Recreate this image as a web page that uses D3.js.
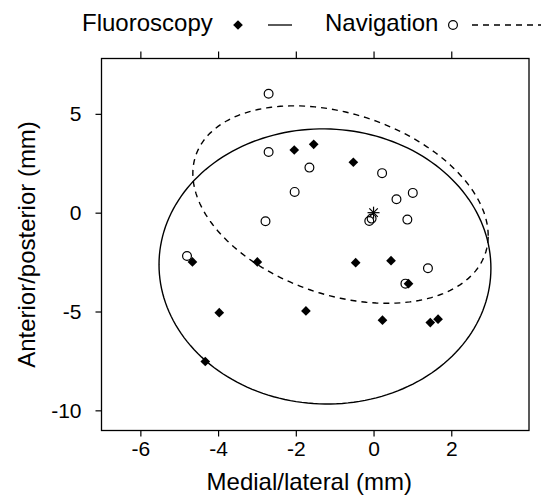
<!DOCTYPE html>
<html>
<head>
<meta charset="utf-8">
<script src="https://cdn.jsdelivr.net/npm/d3@7"></script>
<style>
  body { margin: 0; background: #fff; }
  text { font-family: "Liberation Sans", Arial, sans-serif; fill: #000; }
</style>
</head>
<body>
<div id="chart"></div>
<script>
// values
const fluoroX = [-2.04, -1.54, -0.52, -4.66, -2.99, -3.97, -1.74, -4.33, -0.46, 0.45, 0.90, 0.23, 1.46, 1.66];
const fluoroY = [3.17, 3.46, 2.55, -2.49, -2.49, -5.06, -4.97, -7.53, -2.53, -2.43, -3.59, -5.44, -5.56, -5.39];
const navX = [-2.70, -2.70, -1.65, -2.03, -2.78, -4.80, 0.22, 1.01, 0.59, 0.87, -0.11, -0.05, 1.40, 0.82];
const navY = [6.02, 3.07, 2.28, 1.05, -0.43, -2.19, 2.00, 1.00, 0.68, -0.35, -0.42, -0.30, -2.81, -3.59];
const target = [0, 0];

// ellipses: [centre x, centre y, half width x, half height y, covariance term]
const fluoroEllipse = [-1.25, -2.72, 4.27, 6.96, -0.39];
const navEllipse = [-0.85, 0.41, 3.80, 4.995, -5.98];

const xTicks = [-6, -4, -2, 0, 2];
const yTicks = [-10, -5, 0, 5];
const legendLabels = ['Fluoroscopy', 'Navigation'];

const W = 541, H = 500;
const margin = {top: 58.5, right: 12, bottom: 69.5, left: 101.5};

const svg = d3.select('#chart').append('svg')
    .attr('width', W)
    .attr('height', H);

const x = d3.scaleLinear().domain([-7, 4]).range([margin.left, W - margin.right]);
const y = d3.scaleLinear().domain([-11.02, 7.8]).range([H - margin.bottom, margin.top]);

// axes, lattice style: ticks on bottom/left with labels, top without
svg.append('g')
    .attr('transform', `translate(0,${H - margin.bottom})`)
    .call(d3.axisBottom(x).tickValues(xTicks).tickSize(6).tickPadding(5).tickFormat(d => d))
    .call(g => g.select('.domain').remove())
    .call(g => g.selectAll('text').style('font-size', '21px'));

svg.append('g')
    .attr('transform', `translate(0,${margin.top})`)
    .call(d3.axisTop(x).tickValues(xTicks).tickSize(7).tickFormat(''))
    .call(g => g.select('.domain').remove());

svg.append('g')
    .attr('transform', `translate(${margin.left},0)`)
    .call(d3.axisLeft(y).tickValues(yTicks).tickSize(6).tickPadding(14).tickFormat(d => d))
    .call(g => g.select('.domain').remove())
    .call(g => g.selectAll('text').style('font-size', '21px'));

svg.selectAll('.tick line').attr('stroke', '#000').attr('stroke-width', 1.2);

// frame
svg.append('rect')
    .attr('x', margin.left)
    .attr('y', margin.top)
    .attr('width', W - margin.left - margin.right)
    .attr('height', H - margin.top - margin.bottom)
    .attr('fill', 'none')
    .attr('stroke', '#000')
    .attr('stroke-width', 1.3);

// axis titles
svg.append('text')
    .attr('x', (x(-7) + x(4)) / 2 - 6)
    .attr('y', 490)
    .attr('text-anchor', 'middle')
    .style('font-size', '24px')
    .text('Medial/lateral (mm)');

svg.append('text')
    .attr('transform', `translate(35,${(y(-11.02) + y(7.8)) / 2}) rotate(-90)`)
    .attr('text-anchor', 'middle')
    .style('font-size', '24px')
    .text('Anterior/posterior (mm)');

// ellipses
function ellipsePts(e) {
  const [cx, cy, sx, sy, c] = e;
  const k = c / sx, m = Math.sqrt(sy * sy - k * k);
  return d3.range(0, 361, 2).map(a => {
    const t = a * Math.PI / 180;
    return [cx + sx * Math.cos(t), cy + k * Math.cos(t) + m * Math.sin(t)];
  });
}
const line = d3.line().x(d => x(d[0])).y(d => y(d[1])).curve(d3.curveLinearClosed);

const plot = svg.append('g');

plot.append('path')
    .attr('d', line(ellipsePts(fluoroEllipse)))
    .attr('fill', 'none')
    .attr('stroke', '#000')
    .attr('stroke-width', 1.4);

plot.append('path')
    .attr('d', line(ellipsePts(navEllipse)))
    .attr('fill', 'none')
    .attr('stroke', '#000')
    .attr('stroke-width', 1.4)
    .attr('stroke-dasharray', '6,5');

// points
const diamond = d3.symbol().type(d3.symbolDiamond2).size(60);
plot.selectAll('.fluoro')
    .data(fluoroX.map((v, i) => [v, fluoroY[i]]))
  .enter().append('path')
    .attr('class', 'fluoro')
    .attr('transform', d => `translate(${x(d[0])},${y(d[1])})`)
    .attr('d', diamond)
    .attr('fill', '#000');

plot.selectAll('.nav')
    .data(navX.map((v, i) => [v, navY[i]]))
  .enter().append('circle')
    .attr('class', 'nav')
    .attr('cx', d => x(d[0]))
    .attr('cy', d => y(d[1]))
    .attr('r', 4.4)
    .attr('fill', 'none')
    .attr('stroke', '#000')
    .attr('stroke-width', 1.2);

// asterisk at the target
const star = plot.append('g')
    .attr('transform', `translate(${x(target[0])},${y(target[1])})`)
    .attr('stroke', '#000')
    .attr('stroke-width', 1.2);
[0, 45, 90, 135].forEach(a => {
  const r = 6, t = a * Math.PI / 180;
  star.append('line')
      .attr('x1', -r * Math.cos(t)).attr('y1', -r * Math.sin(t))
      .attr('x2', r * Math.cos(t)).attr('y2', r * Math.sin(t));
});

// legend
const leg = svg.append('g');
leg.append('text').attr('x', 82).attr('y', 31).style('font-size', '24px').text(legendLabels[0]);
leg.append('path').attr('transform', 'translate(238,25)').attr('d', diamond).attr('fill', '#000');
leg.append('line').attr('x1', 268).attr('x2', 292).attr('y1', 25).attr('y2', 25)
    .attr('stroke', '#000').attr('stroke-width', 1.3);
leg.append('text').attr('x', 325).attr('y', 31).style('font-size', '24px').text(legendLabels[1]);
leg.append('circle').attr('cx', 453).attr('cy', 25).attr('r', 4.4)
    .attr('fill', 'none').attr('stroke', '#000').attr('stroke-width', 1.2);
leg.append('line').attr('x1', 472).attr('x2', 541).attr('y1', 25).attr('y2', 25)
    .attr('stroke', '#000').attr('stroke-width', 1.3).attr('stroke-dasharray', '6,5');
</script>
</body>
</html>
